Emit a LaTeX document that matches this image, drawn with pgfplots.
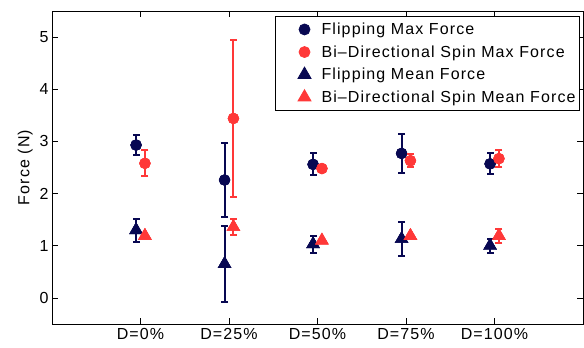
\documentclass[border=0pt]{standalone}
\usepackage{fontspec}
\setmainfont{Liberation Sans}[LetterSpace=7]
\usepackage{pgfplots}
\pgfplotsset{compat=1.18}
\definecolor{navy}{RGB}{8,8,82}
\definecolor{myred}{RGB}{255,56,56}
\begin{document}
\begin{tikzpicture}[font=\fontsize{16}{19}\selectfont]
\begin{axis}[
  name=ax,
  scale only axis,
  width=531pt, height=313pt,
  xmin=0, xmax=6, ymin=-0.5, ymax=5.5,
  xtick={1,2,3,4,5},
  xticklabels={D=0\%,D=25\%,D=50\%,D=75\%,D=100\%},
  ytick={0,1,2,3,4,5},
  /pgf/number format/assume math mode=true,
  tick align=inside,
  major tick length=6pt,
  tick style={black, line width=0.6pt},
  axis line style={black, line width=0.8pt},
  ylabel={Force (N)},
  xticklabel style={yshift=-1pt},
  unbounded coords=jump,
  legend style={at={(0.9944,0.984)}, anchor=north east, draw=black, line width=0.8pt,
    font=\fontsize{16}{19}\selectfont, row sep=5.5pt, inner xsep=2pt, inner ysep=4.5pt,
    /tikz/every odd column/.append style={column sep=2pt}},
  legend cell align=left,
  legend image code/.code={\path[draw=none] (-14pt,0pt) -- (26pt,0pt);\draw[mark repeat=2,mark phase=2] plot coordinates {(0pt,0pt) (13pt,0pt) (26pt,0pt)};},
]
% ---- Flipping Max Force
\addplot[only marks, mark=*, color=navy, mark size=5.5pt] coordinates {(0.95,2.93) (1.95,2.26) (2.95,2.56) (3.95,2.77) (4.95,2.57)};
\addlegendentry{Flipping Max Force}
\addplot[forget plot, navy, line width=2pt] coordinates {(0.95,2.73) (0.95,3.13) (0.95,nan) (1.95,1.55) (1.95,2.97) (1.95,nan) (2.95,2.35) (2.95,2.77) (2.95,nan) (3.95,2.40) (3.95,3.14) (3.95,nan) (4.95,2.37) (4.95,2.77)};
\addplot[forget plot, only marks, mark=-, mark size=3.5pt, navy, line width=2pt] coordinates {(0.95,2.73) (0.95,3.13) (1.95,1.55) (1.95,2.97) (2.95,2.35) (2.95,2.77) (3.95,2.40) (3.95,3.14) (4.95,2.37) (4.95,2.77)};
\addplot[forget plot, only marks, mark=*, color=navy, mark size=5.5pt] coordinates {(0.95,2.93) (1.95,2.26) (2.95,2.56) (3.95,2.77) (4.95,2.57)};
% ---- Bi-Directional Spin Max Force
\addplot[only marks, mark=*, color=myred, mark size=5.5pt] coordinates {(1.05,2.58) (2.05,3.44) (3.05,2.48) (4.05,2.63) (5.05,2.67)};
\addlegendentry{Bi--Directional Spin Max Force}
\addplot[forget plot, myred, line width=2pt] coordinates {(1.05,2.33) (1.05,2.83) (1.05,nan) (2.05,1.93) (2.05,4.95) (2.05,nan) (4.05,2.50) (4.05,2.76) (4.05,nan) (5.05,2.51) (5.05,2.83)};
\addplot[forget plot, only marks, mark=-, mark size=3.5pt, myred, line width=2pt] coordinates {(1.05,2.33) (1.05,2.83) (2.05,1.93) (2.05,4.95) (4.05,2.50) (4.05,2.76) (5.05,2.51) (5.05,2.83)};
\addplot[forget plot, only marks, mark=*, color=myred, mark size=5.5pt] coordinates {(1.05,2.58) (2.05,3.44) (3.05,2.48) (4.05,2.63) (5.05,2.67)};
% ---- Flipping Mean Force
\addplot[only marks, mark=triangle*, color=navy, mark size=7.5pt] coordinates {(0.95,1.30) (1.95,0.65) (2.95,1.03) (3.95,1.13) (4.95,1.00)};
\addlegendentry{Flipping Mean Force}
\addplot[forget plot, navy, line width=2pt] coordinates {(0.95,1.08) (0.95,1.52) (0.95,nan) (1.95,-0.08) (1.95,1.37) (1.95,nan) (2.95,0.87) (2.95,1.19) (2.95,nan) (3.95,0.80) (3.95,1.46) (3.95,nan) (4.95,0.87) (4.95,1.13)};
\addplot[forget plot, only marks, mark=-, mark size=3.5pt, navy, line width=2pt] coordinates {(0.95,1.08) (0.95,1.52) (1.95,-0.08) (1.95,1.37) (2.95,0.87) (2.95,1.19) (3.95,0.80) (3.95,1.46) (4.95,0.87) (4.95,1.13)};
\addplot[forget plot, only marks, mark=triangle*, color=navy, mark size=7.5pt] coordinates {(0.95,1.30) (1.95,0.65) (2.95,1.03) (3.95,1.13) (4.95,1.00)};
% ---- Bi-Directional Spin Mean Force
\addplot[only marks, mark=triangle*, color=myred, mark size=7.5pt] coordinates {(1.05,1.19) (2.05,1.36) (3.05,1.10) (4.05,1.19) (5.05,1.19)};
\addlegendentry{Bi--Directional Spin Mean Force}
\addplot[forget plot, myred, line width=2pt] coordinates {(2.05,1.20) (2.05,1.52) (2.05,nan) (5.05,1.06) (5.05,1.32)};
\addplot[forget plot, only marks, mark=-, mark size=3.5pt, myred, line width=2pt] coordinates {(2.05,1.20) (2.05,1.52) (5.05,1.06) (5.05,1.32)};
\addplot[forget plot, only marks, mark=triangle*, color=myred, mark size=7.5pt] coordinates {(1.05,1.19) (2.05,1.36) (3.05,1.10) (4.05,1.19) (5.05,1.19)};
\end{axis}
\pgfresetboundingbox
\path ([xshift=-52pt,yshift=-24pt]ax.south west) rectangle ([xshift=1pt,yshift=11pt]ax.north east);
\end{tikzpicture}
\end{document}
